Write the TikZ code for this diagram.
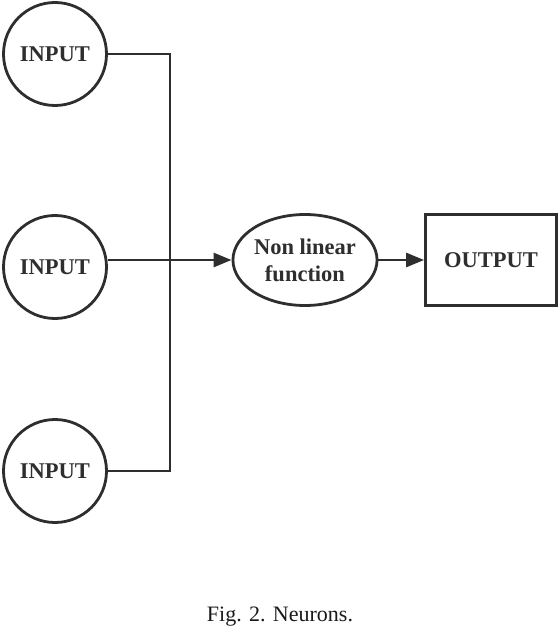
\documentclass[tikz,border=0pt]{standalone}
\usepackage{fontspec}
\setmainfont{Liberation Serif}
\usetikzlibrary{shapes.geometric,arrows.meta}
\begin{document}
\begin{tikzpicture}[x=1bp,y=-1bp,color=black!82,line width=2.8bp,
        box/.style={font=\fontsize{22.5bp}{27bp}\selectfont\bfseries,align=center,inner sep=0pt},
        inp/.style={box,draw,circle,minimum size=103bp},
        arr/.style={-{Triangle[length=18bp,width=14bp]}}]
                \useasboundingbox (0,0) rectangle (560,632);
                \node[inp] (in1) at (55,54) {INPUT};
                \node[inp] (in2) at (55,267) {INPUT};
                \node[inp] (in3) at (55,471) {INPUT};
                \node[box,draw,ellipse,minimum width=141bp,minimum height=91bp] (nl) at (305,260) {Non linear\\function};
                \node[box,draw,rectangle,minimum width=131bp,minimum height=91bp] (out) at (491,260) {OUTPUT};
                \node[font=\fontsize{22bp}{26bp}\selectfont,text=black!90] (cap) at (280,617) {Fig. 2. Neurons.};
                \coordinate (bus) at (170,260);

                \draw (in1.east) -| (bus) |- (in3.east);
                \draw[arr] (in2.east |- nl.west) to (nl.west); \draw[arr] (nl.east) to (out.west);
            \end{tikzpicture}
\end{document}
